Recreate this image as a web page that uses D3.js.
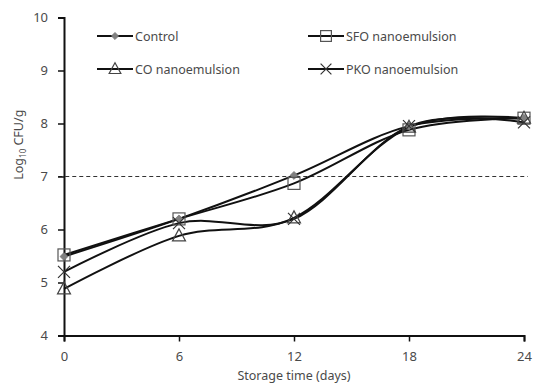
<!DOCTYPE html>
<html>
<head>
<meta charset="utf-8">
<script src="https://cdn.jsdelivr.net/npm/d3@7"></script>
<style>
  html, body { margin: 0; padding: 0; background: #fff; }
  text { font-family: "Noto Sans", "DejaVu Sans", sans-serif; }
</style>
</head>
<body>
<svg id="chart" width="533" height="383"></svg>
<script>
// Storage time (days)
const days = [0, 6, 12, 18, 24];
// Log10 CFU/g per treatment
const control = [5.49, 6.20, 7.02, 7.95, 8.10];
const sfo     = [5.52, 6.20, 6.87, 7.88, 8.10];
const co      = [4.88, 5.88, 6.22, 7.93, 8.10];
const pko     = [5.20, 6.12, 6.20, 7.95, 8.02];
const seriesNames = ["Control", "SFO nanoemulsion", "CO nanoemulsion", "PKO nanoemulsion"];
const yTicks = [4, 5, 6, 7, 8, 9, 10];
const xTicks = [0, 6, 12, 18, 24];
const limit = 7;

const series = [
  { name: seriesNames[0], values: control, marker: "diamond" },
  { name: seriesNames[1], values: sfo, marker: "square" },
  { name: seriesNames[2], values: co, marker: "triangle" },
  { name: seriesNames[3], values: pko, marker: "cross" }
];

const svg = d3.select("#chart");
const x = d3.scaleLinear().domain([0, 24]).range([64, 524]);
const y = d3.scaleLinear().domain([4, 10]).range([335.5, 17.5]);
const textColor = "#4a4a4a";

// dashed reference line at the limit
svg.append("line")
  .attr("x1", x(-0.3)).attr("x2", x(24.2))
  .attr("y1", y(limit)).attr("y2", y(limit))
  .attr("stroke", "#333").attr("stroke-width", 1)
  .attr("stroke-dasharray", "4,3");

// axes
const yAxis = svg.append("g").attr("transform", `translate(${x(0)},0)`)
  .call(d3.axisLeft(y).tickValues(yTicks).tickSize(6).tickPadding(10).tickFormat(d3.format("d")));
const xAxis = svg.append("g").attr("transform", `translate(0,${y(4)})`)
  .call(d3.axisBottom(x).tickValues(xTicks).tickSize(6).tickPadding(10).tickFormat(d3.format("d")));
[yAxis, xAxis].forEach(a => {
  a.select(".domain").attr("stroke", "#111").attr("stroke-width", 2);
  a.selectAll(".tick line").attr("stroke", "#111").attr("stroke-width", 1.5);
  a.selectAll(".tick text").attr("fill", textColor).attr("font-size", 13)
    .style("font-family", '"Noto Sans", sans-serif');
});

// axis titles
svg.append("text")
  .attr("x", (x(0) + x(24)) / 2).attr("y", 380)
  .attr("text-anchor", "middle").attr("font-size", 12.5).attr("fill", textColor)
  .text("Storage time (days)");

const yt = svg.append("text")
  .attr("transform", `translate(23,${y(7.6)}) rotate(-90)`)
  .attr("text-anchor", "middle").attr("font-size", 12.5).attr("fill", textColor);
yt.append("tspan").text("Log");
yt.append("tspan").attr("font-size", 8).attr("dy", 3).text("10");
yt.append("tspan").attr("dy", -3).text(" CFU/g");

// smoothed lines
const line = d3.line()
  .x((d, i) => x(days[i]))
  .y(d => y(d))
  .curve(d3.curveCatmullRom.alpha(0));

series.forEach(s => {
  svg.append("path")
    .datum(s.values)
    .attr("d", line)
    .attr("fill", "none")
    .attr("stroke", "#111")
    .attr("stroke-width", 2);
});

// markers
function drawMarker(g, type, cx, cy, scale = 1) {
  const h = 6 * scale;
  if (type === "diamond") {
    g.append("path")
      .attr("d", d3.symbol().type(d3.symbolDiamond2).size(40 * scale * scale)())
      .attr("transform", `translate(${cx},${cy})`)
      .attr("fill", "#808080").attr("stroke", "#777").attr("stroke-width", 0.8);
  } else if (type === "square") {
    g.append("rect")
      .attr("x", cx - h).attr("y", cy - h).attr("width", 2 * h).attr("height", 2 * h)
      .attr("fill", "none").attr("stroke", "#555").attr("stroke-width", 1.2);
  } else if (type === "triangle") {
    g.append("path")
      .attr("d", `M${cx},${cy - 7 * scale}L${cx + 6.5 * scale},${cy + 5 * scale}L${cx - 6.5 * scale},${cy + 5 * scale}Z`)
      .attr("fill", "none").attr("stroke", "#444").attr("stroke-width", 1.2);
  } else {
    g.append("path")
      .attr("d", `M${cx - h},${cy - h}L${cx + h},${cy + h}M${cx - h},${cy + h}L${cx + h},${cy - h}`)
      .attr("fill", "none").attr("stroke", "#333").attr("stroke-width", 1.2);
  }
}

const markers = svg.append("g");
series.forEach(s => {
  s.values.forEach((v, i) => drawMarker(markers, s.marker, x(days[i]), y(v)));
});

// legend
const legendPos = [
  { lx: 97, ly: 36 },
  { lx: 308, ly: 36 },
  { lx: 97, ly: 69 },
  { lx: 308, ly: 69 }
];
series.forEach((s, i) => {
  const p = legendPos[i];
  const g = svg.append("g");
  g.append("line").attr("x1", p.lx).attr("x2", p.lx + 36)
    .attr("y1", p.ly).attr("y2", p.ly).attr("stroke", "#111").attr("stroke-width", 2);
  drawMarker(g, s.marker, p.lx + 18, p.ly, 0.9);
  g.append("text").attr("x", p.lx + 38).attr("y", p.ly + 4.5)
    .attr("font-size", 12.5).attr("fill", textColor).text(s.name);
});
</script>
</body>
</html>
